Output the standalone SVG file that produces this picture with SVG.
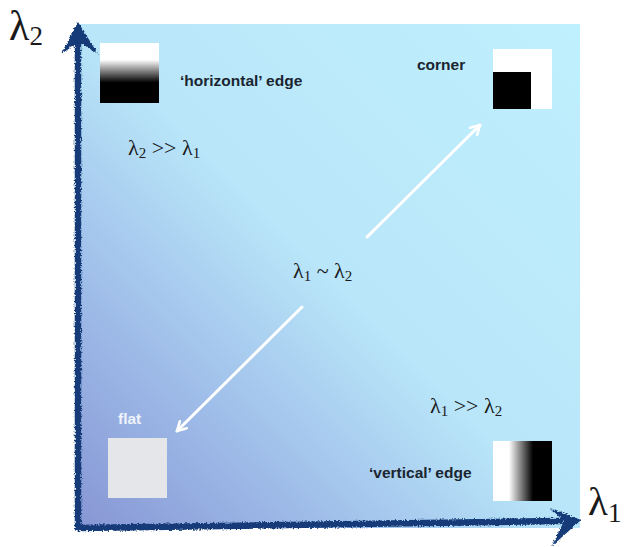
<svg xmlns="http://www.w3.org/2000/svg" width="627" height="547" viewBox="0 0 627 547">
  <defs>
    <linearGradient id="bg" x1="0" y1="1" x2="1" y2="0">
      <stop offset="0" stop-color="#8796d4"/>
      <stop offset="0.25" stop-color="#9fbde9"/>
      <stop offset="0.5" stop-color="#b9e6f9"/>
      <stop offset="1" stop-color="#bff0fd"/>
    </linearGradient>
    <linearGradient id="hgrad" x1="0" y1="0" x2="0" y2="1">
      <stop offset="0" stop-color="#ffffff"/>
      <stop offset="0.28" stop-color="#ffffff"/>
      <stop offset="0.66" stop-color="#000000"/>
      <stop offset="1" stop-color="#000000"/>
    </linearGradient>
    <linearGradient id="vgrad" x1="0" y1="0" x2="1" y2="0">
      <stop offset="0" stop-color="#ffffff"/>
      <stop offset="0.27" stop-color="#ffffff"/>
      <stop offset="0.68" stop-color="#000000"/>
      <stop offset="1" stop-color="#000000"/>
    </linearGradient>
    <filter id="rough" x="-5%" y="-5%" width="110%" height="110%">
      <feTurbulence type="fractalNoise" baseFrequency="0.6" numOctaves="2" seed="3" result="n"/>
      <feDisplacementMap in="SourceGraphic" in2="n" scale="4" xChannelSelector="R" yChannelSelector="G"/>
    </filter>
    <marker id="wa" viewBox="0 0 12 12" refX="10" refY="6" markerWidth="12" markerHeight="12" markerUnits="userSpaceOnUse" orient="auto">
      <path d="M1,1 L10,6 L1,11" fill="none" stroke="#ffffff" stroke-width="2.6" stroke-linecap="round" stroke-linejoin="round"/>
    </marker>
  </defs>
  <style>
    .lab { font-family: "Liberation Sans", Arial, sans-serif; font-weight: bold; font-size: 15.5px; fill: #1a2530; }
    .math { font-family: "Liberation Serif", "Times New Roman", serif; fill: #1a1a1a; }
    .axis { stroke: #123a78; stroke-width: 6.5; fill: none; stroke-linecap: round; }
    .axhead { fill: #123a78; }
    .conn { stroke: #ffffff; stroke-width: 3; fill: none; stroke-linecap: round; }
  </style>

  <rect width="627" height="547" fill="#ffffff"/>
  <rect id="panel" x="78" y="24" width="502" height="504" fill="url(#bg)"/>

  <g id="axes" filter="url(#rough)">
    <path class="axis" d="M78,528 L78,40"/>
    <path class="axhead" d="M78,22 L98,54 L79,42 L61,54 Z"/>
    <path class="axis" d="M78,528 L560,521"/>
    <path class="axhead" d="M581,520 L552,546 L564,521 L550,508 Z"/>
  </g>

  <g id="label-lambda2">
    <text class="math" x="9" y="40" font-size="42">λ<tspan font-size="27" dy="5">2</tspan></text>
  </g>
  <g id="label-lambda1">
    <text class="math" x="588" y="515" font-size="41">λ<tspan font-size="27" dy="7">1</tspan></text>
  </g>

  <g id="horizontal-edge">
    <rect x="100" y="43" width="59" height="60" fill="url(#hgrad)"/>
    <text class="lab" x="180" y="86">‘horizontal’ edge</text>
  </g>

  <g id="corner">
    <rect x="493" y="49" width="59" height="60" fill="#ffffff"/>
    <rect x="493" y="72" width="38" height="37" fill="#000000"/>
    <text class="lab" x="417" y="70">corner</text>
  </g>

  <g id="flat">
    <rect x="108" y="438" width="59" height="60" fill="#e4e6ea"/>
    <text class="lab" x="118" y="424" style="fill:#eef2fa">flat</text>
  </g>

  <g id="vertical-edge">
    <rect x="493" y="441" width="59" height="60" fill="url(#vgrad)"/>
    <text class="lab" x="369" y="478">‘vertical’ edge</text>
  </g>

  <g id="region-l2">
    <text class="math" x="128" y="155" font-size="22">λ<tspan font-size="15" dy="3">2</tspan><tspan dy="-3"> &gt;&gt; λ</tspan><tspan font-size="15" dy="3">1</tspan></text>
  </g>
  <g id="region-l1">
    <text class="math" x="430" y="413" font-size="22">λ<tspan font-size="15" dy="3">1</tspan><tspan dy="-3"> &gt;&gt; λ</tspan><tspan font-size="15" dy="3">2</tspan></text>
  </g>
  <g id="region-eq">
    <text class="math" x="293" y="278" font-size="22">λ<tspan font-size="15" dy="3">1</tspan><tspan dy="-3"> ~ λ</tspan><tspan font-size="15" dy="3">2</tspan></text>
  </g>

  <g id="connectors">
    <line class="conn" x1="367" y1="237" x2="480" y2="125" marker-end="url(#wa)"/>
    <line class="conn" x1="302" y1="307" x2="177" y2="431" marker-end="url(#wa)"/>
  </g>
</svg>
